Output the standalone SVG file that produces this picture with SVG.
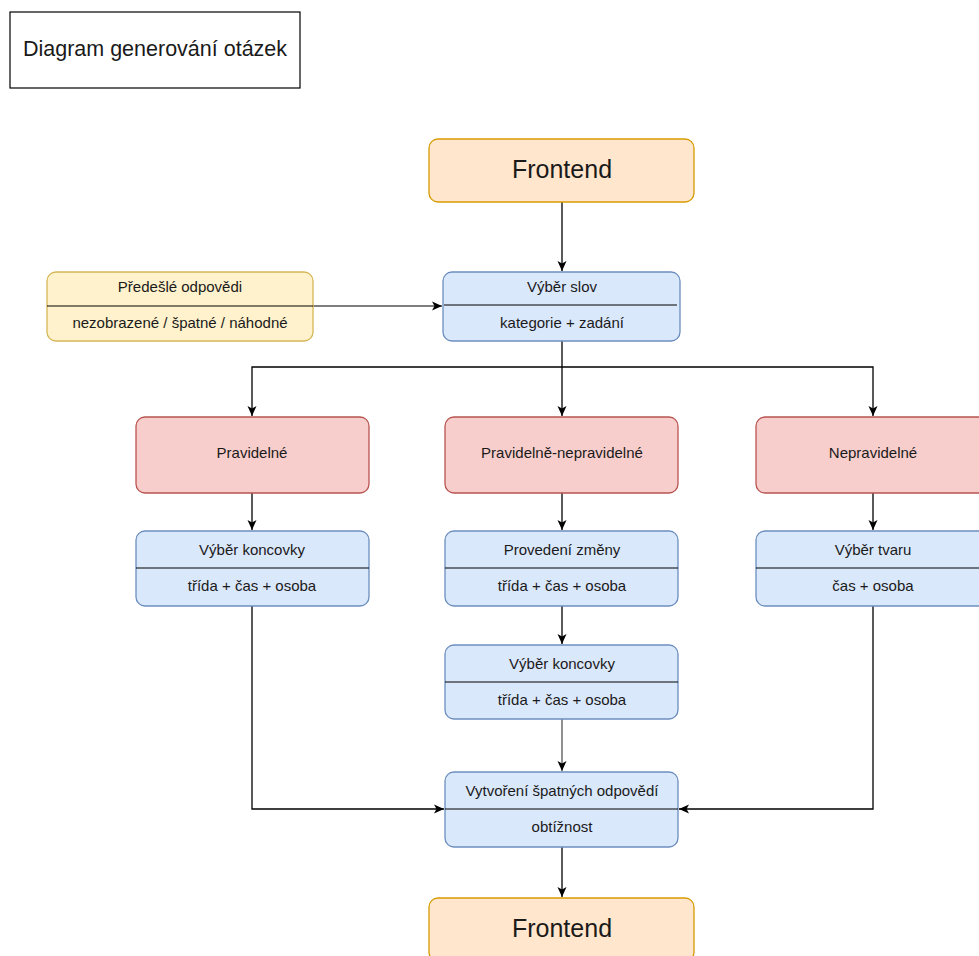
<svg xmlns="http://www.w3.org/2000/svg" width="979" height="956" viewBox="0 0 979 956">
<defs>
<marker id="arr" markerWidth="12" markerHeight="12" viewBox="0 0 12 12" refX="11" refY="6" orient="auto" markerUnits="userSpaceOnUse">
<path d="M1,1.5 L11,6 L1,10.5 L3.5,6 Z" fill="#000"/>
</marker>
<style>
text{font-family:"Liberation Sans",Arial,sans-serif;fill:#1a1a1a;text-anchor:middle}
.t{font-size:15px}
.big{font-size:25px}
.blue{fill:#dae8fc;stroke:#6c8ebf;stroke-width:1.3}
.red{fill:#f8cecc;stroke:#b85450;stroke-width:1.3}
.orange{fill:#ffe6cc;stroke:#d79b00;stroke-width:1.3}
.yellow{fill:#fff2cc;stroke:#d6b656;stroke-width:1.3}
.div{stroke:#000;stroke-width:1}
.c{fill:none;stroke:#000;stroke-width:1.3}
</style>
</defs>
<rect width="979" height="956" fill="#fff"/>
<g id="title">
<rect x="10" y="12" width="290" height="76" fill="#fff" stroke="#000" stroke-width="1.2"/>
<text x="155" y="56" style="font-size:21.5px">Diagram generování otázek</text>
</g>
<g id="connectors">
<path class="c" d="M562,202 L562,271" marker-end="url(#arr)"/>
<path class="c" d="M313,306 L442,306" marker-end="url(#arr)" style="stroke:#555"/>
<path class="c" d="M562,341 L562,416" marker-end="url(#arr)"/>
<path class="c" d="M562,367 L252,367 L252,416" marker-end="url(#arr)"/>
<path class="c" d="M562,367 L873,367 L873,416" marker-end="url(#arr)"/>
<path class="c" d="M252,493 L252,530" marker-end="url(#arr)"/>
<path class="c" d="M562,493 L562,530" marker-end="url(#arr)"/>
<path class="c" d="M873,493 L873,530" marker-end="url(#arr)"/>
<path class="c" d="M562,606 L562,644" marker-end="url(#arr)"/>
<path class="c" d="M562,719 L562,771" marker-end="url(#arr)" style="stroke:#555"/>
<path class="c" d="M252,606 L252,809 L444,809" marker-end="url(#arr)"/>
<path class="c" d="M873,606 L873,809 L679,809" marker-end="url(#arr)"/>
<path class="c" d="M562,847 L562,897" marker-end="url(#arr)"/>
</g>
<g id="frontend-top">
<rect class="orange" x="429" y="139" width="265" height="63" rx="9"/>
<text class="big" x="562" y="178">Frontend</text>
</g>
<g id="vyber-slov">
<rect class="blue" x="443" y="272" width="237" height="69" rx="9"/>
<line class="div" x1="444" y1="305" x2="677" y2="305"/>
<text class="t" x="562" y="292">Výběr slov</text>
<text class="t" x="562" y="328">kategorie + zadání</text>
</g>
<g id="predesle">
<rect class="yellow" x="47" y="272" width="266" height="69" rx="9"/>
<line class="div" x1="47" y1="306" x2="313" y2="306"/>
<text class="t" x="180" y="292">Předešlé odpovědi</text>
<text class="t" x="180" y="328">nezobrazené / špatné / náhodné</text>
</g>
<g id="pravidelne">
<rect class="red" x="136" y="417" width="233" height="76" rx="9"/>
<text class="t" x="252" y="458">Pravidelné</text>
</g>
<g id="prav-neprav">
<rect class="red" x="445" y="417" width="233" height="76" rx="9"/>
<text class="t" x="562" y="458">Pravidelně-nepravidelné</text>
</g>
<g id="nepravidelne">
<rect class="red" x="756" y="417" width="234" height="76" rx="9"/>
<text class="t" x="873" y="458">Nepravidelné</text>
</g>
<g id="vyber-koncovky-1">
<rect class="blue" x="136" y="531" width="233" height="75" rx="9"/>
<line class="div" x1="136" y1="568" x2="369" y2="568"/>
<text class="t" x="252" y="555">Výběr koncovky</text>
<text class="t" x="252" y="591">třída + čas + osoba</text>
</g>
<g id="provedeni-zmeny">
<rect class="blue" x="445" y="531" width="233" height="75" rx="9"/>
<line class="div" x1="445" y1="568" x2="678" y2="568"/>
<text class="t" x="562" y="555">Provedení změny</text>
<text class="t" x="562" y="591">třída + čas + osoba</text>
</g>
<g id="vyber-tvaru">
<rect class="blue" x="756" y="531" width="234" height="75" rx="9"/>
<line class="div" x1="756" y1="568" x2="990" y2="568"/>
<text class="t" x="873" y="555">Výběr tvaru</text>
<text class="t" x="873" y="591">čas + osoba</text>
</g>
<g id="vyber-koncovky-2">
<rect class="blue" x="445" y="645" width="233" height="74" rx="9"/>
<line class="div" x1="445" y1="682" x2="678" y2="682"/>
<text class="t" x="562" y="669">Výběr koncovky</text>
<text class="t" x="562" y="705">třída + čas + osoba</text>
</g>
<g id="vytvoreni">
<rect class="blue" x="445" y="772" width="233" height="75" rx="9"/>
<line class="div" x1="445" y1="809" x2="678" y2="809"/>
<text class="t" x="562" y="796">Vytvoření špatných odpovědí</text>
<text class="t" x="562" y="832">obtížnost</text>
</g>
<g id="frontend-bottom">
<rect class="orange" x="429" y="898" width="265" height="63" rx="9"/>
<text class="big" x="562" y="937">Frontend</text>
</g>
</svg>
